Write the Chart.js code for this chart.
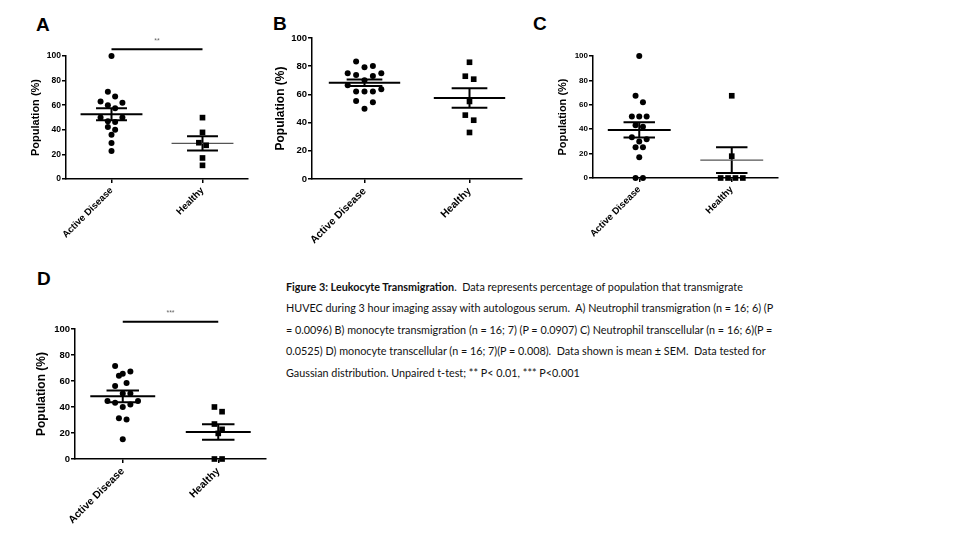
<!DOCTYPE html>
<html>
<head>
<meta charset="utf-8">
<script src="https://cdn.jsdelivr.net/npm/chart.js@4.4.0/dist/chart.umd.min.js"></script>
<style>
body{margin:0;background:#fff;width:960px;height:540px;position:relative;overflow:hidden;}
canvas{position:absolute;}
.tag{position:absolute;font:bold 19px "Liberation Sans",Arial,sans-serif;line-height:1;color:#000;}
#caption{position:absolute;left:286px;top:276px;font:10.8px Lato,"Open Sans",sans-serif;color:#111;line-height:21.4px;}
#caption div{white-space:nowrap;}
</style>
</head>
<body>
<div class="tag" style="left:36px;top:15px">A</div>
<div class="tag" style="left:273px;top:14px">B</div>
<div class="tag" style="left:533px;top:14px">C</div>
<div class="tag" style="left:37px;top:269px">D</div>

<canvas id="chartA"></canvas>
<canvas id="chartB"></canvas>
<canvas id="chartC"></canvas>
<canvas id="chartD"></canvas>

<div id="caption">
<div><b>Figure 3: Leukocyte Transmigration</b>.&nbsp; Data represents percentage of population that transmigrate</div>
<div>HUVEC during 3 hour imaging assay with autologous serum.&nbsp; A) Neutrophil transmigration (n = 16; 6) (P</div>
<div>= 0.0096) B) monocyte transmigration (n = 16; 7) (P = 0.0907) C) Neutrophil transcellular (n = 16; 6)(P =</div>
<div>0.0525) D) monocyte transcellular (n = 16; 7)(P = 0.008).&nbsp; Data shown is mean ± SEM.&nbsp; Data tested for</div>
<div>Gaussian distribution. Unpaired t-test; ** P&lt; 0.01, *** P&lt;0.001</div>
</div>

<script>
const groups = ['Active Disease', 'Healthy'];
const yTicks = [0, 20, 40, 60, 80, 100];

// A) neutrophil transmigration
const neutTransActive = [100, 71, 67, 63, 62, 60, 57.5, 50, 50, 46.9, 46.3, 42.3, 40.1, 36, 29.3, 22.8];
const neutTransHealthy = [49.9, 37.9, 29.5, 27.4, 17.1, 11.1];
const neutTransMean = [52.6, 29.0];
const neutTransSem = [4.9, 5.8];

// B) monocyte transmigration
const monoTransActive = [83.3, 80.2, 79.2, 75, 75, 73.8, 73.1, 70, 66.5, 63.7, 62, 62, 62, 55.4, 54.5, 49.8];
const monoTransHealthy = [82.8, 72.9, 70.8, 55, 45.3, 41.7, 33];
const monoTransMean = [68.2, 57.5];
const monoTransSem = [2.3, 6.9];

// C) neutrophil transcellular
const neutCellActive = [100, 67.4, 62, 50.5, 50.5, 50.5, 43.2, 42.1, 33.4, 31.8, 30, 25.3, 25.3, 17.1, 0, 0];
const neutCellHealthy = [67.4, 17.9, 0, 0, 0, 0];
const neutCellMean = [39.4, 14.7];
const neutCellSem = [6.2, 10.6];

// D) monocyte transcellular
const monoCellActive = [71.5, 67.4, 65.6, 64.1, 58.5, 56.2, 50.3, 50.3, 44.6, 44.6, 43.3, 42, 40, 31.3, 30.3, 15.1];
const monoCellHealthy = [40, 36.4, 26.9, 22.8, 19.7, 0, 0];
const monoCellMean = [48.2, 20.8];
const monoCellSem = [4.5, 6.0];

// significance bars (A and D)
const sigLevel = 105.5;
const starLevel = 112;

const FONT = '"Liberation Sans", Arial, sans-serif';

// spread dots of similar value side by side, prism style
function swarm(values, rowSpan){
    const order = values.map((v, i) => i).sort((a, b) => values[b] - values[a]);
    const offs = new Array(values.length).fill(0);
    let i = 0;
    while(i < order.length){
        let j = i;
        while(j + 1 < order.length && values[order[i]] - values[order[j + 1]] < rowSpan) j++;
        const k = j - i + 1;
        const slots = [];
        for(let s = 0; s < k; s++) slots.push(s - (k - 1) / 2);
        slots.sort((a, b) => Math.abs(b) - Math.abs(a) || a - b);
        for(let s = 0; s < k; s++) offs[order[i + s]] = slots[s];
        i = j + 1;
    }
    return offs;
}

function lineSet(data, width, color){
    return {
        type: 'line', showLine: true, data: data,
        borderColor: color, borderWidth: width, borderCapStyle: 'butt',
        pointRadius: 0, spanGaps: false, clip: false
    };
}

const starPlugin = {
    id: 'stars',
    afterDatasetsDraw(chart, args, opts){
        if(!opts.text) return;
        const ctx = chart.ctx;
        ctx.save();
        ctx.fillStyle = '#666';
        ctx.font = '7px ' + FONT;
        ctx.textAlign = 'center';
        ctx.textBaseline = 'middle';
        ctx.fillText(opts.text, chart.scales.x.getPixelForValue(0.5), chart.scales.y.getPixelForValue(starLevel));
        ctx.restore();
    }
};

const panels = [
    {id: 'chartA', box: [25, 30, 240, 225], area: [66, 56, 248, 179],
     active: neutTransActive, healthy: neutTransHealthy, mean: neutTransMean, sem: neutTransSem,
     stars: '**', tick: 8.5, label: 9.5, title: 11, thin: [false, true]},
    {id: 'chartB', box: [269, 20, 261, 240], area: [312, 38, 522, 179],
     active: monoTransActive, healthy: monoTransHealthy, mean: monoTransMean, sem: monoTransSem,
     stars: '', tick: 9.5, label: 10.5, title: 12, thin: [false, false]},
    {id: 'chartC', box: [552, 30, 235, 225], area: [593, 56, 778, 178],
     active: neutCellActive, healthy: neutCellHealthy, mean: neutCellMean, sem: neutCellSem,
     stars: '', tick: 8, label: 9.5, title: 11, thin: [false, true]},
    {id: 'chartD', box: [30, 295, 245, 245], area: [75, 329, 266, 459],
     active: monoCellActive, healthy: monoCellHealthy, mean: monoCellMean, sem: monoCellSem,
     stars: '***', tick: 9.5, label: 10.5, title: 12, thin: [false, false]}
];

function build(p){
    const canvas = document.getElementById(p.id);
    const [cx, cy, cw, ch] = p.box;
    const [al, at, ar, ab] = p.area;
    canvas.width = cw;
    canvas.height = ch;
    canvas.style.left = cx + 'px';
    canvas.style.top = cy + 'px';
    canvas.style.width = cw + 'px';
    canvas.style.height = ch + 'px';

    const datasets = [];
    [p.active, p.healthy].forEach((vals, g) => {
        const offs = swarm(vals, 6);
        datasets.push({
            type: 'scatter',
            data: vals.map((v, i) => ({x: g + offs[i] * 0.08, y: v})),
            pointStyle: g ? 'rect' : 'circle',
            pointRadius: g ? 4 : 3,
            pointHoverRadius: g ? 4 : 3,
            backgroundColor: '#000', borderColor: '#000', borderWidth: 0,
            clip: false
        });
        const m = p.mean[g], s = p.sem[g];
        datasets.push(lineSet([{x: g - 0.34, y: m}, {x: g + 0.34, y: m}],
            p.thin[g] ? 1.2 : 2, p.thin[g] ? '#555' : '#000'));
        datasets.push(lineSet([
            {x: g - 0.17, y: m + s}, {x: g + 0.17, y: m + s}, {x: g, y: null},
            {x: g, y: m + s}, {x: g, y: m - s}, {x: g, y: null},
            {x: g - 0.17, y: m - s}, {x: g + 0.17, y: m - s}
        ], 2, '#000'));
    });
    if(p.stars) datasets.push(lineSet([{x: 0, y: sigLevel}, {x: 1, y: sigLevel}], 2, '#000'));

    const axisGrid = {drawOnChartArea: false, drawTicks: true, tickLength: 4, color: '#000', lineWidth: 1.5};
    const axisBorder = {display: true, color: '#000', width: 1.5};

    new Chart(canvas, {
        type: 'scatter',
        data: {datasets: datasets},
        plugins: [starPlugin],
        options: {
            responsive: false,
            animation: false,
            events: [],
            layout: {padding: {left: 0, top: at - cy, right: cx + cw - ar, bottom: 0}},
            plugins: {
                legend: {display: false},
                tooltip: {enabled: false},
                stars: {text: p.stars}
            },
            scales: {
                x: {
                    type: 'linear', min: -0.5, max: 1.5,
                    afterBuildTicks: s => { s.ticks = groups.map((n, i) => ({value: i})); },
                    afterFit: s => { s.height = cy + ch - ab; s.paddingLeft = 0; s.paddingRight = 0; },
                    ticks: {
                        autoSkip: false, maxRotation: 45, minRotation: 45, padding: 2, color: '#000',
                        font: {family: FONT, size: p.label, weight: 'bold'},
                        callback: v => groups[v]
                    },
                    grid: axisGrid,
                    border: axisBorder
                },
                y: {
                    min: 0, max: 100,
                    afterBuildTicks: s => { s.ticks = yTicks.map(v => ({value: v})); },
                    afterFit: s => { s.width = al - cx; s.paddingTop = 0; s.paddingBottom = 0; },
                    ticks: {padding: 1, color: '#000', font: {family: FONT, size: p.tick, weight: 'bold'}},
                    grid: axisGrid,
                    border: axisBorder,
                    title: {
                        display: true, text: 'Population (%)', color: '#000',
                        font: {family: FONT, size: p.title, weight: 'bold'},
                        padding: {top: 4, bottom: 2}
                    }
                }
            }
        }
    });
}

panels.forEach(build);
</script>
</body>
</html>
